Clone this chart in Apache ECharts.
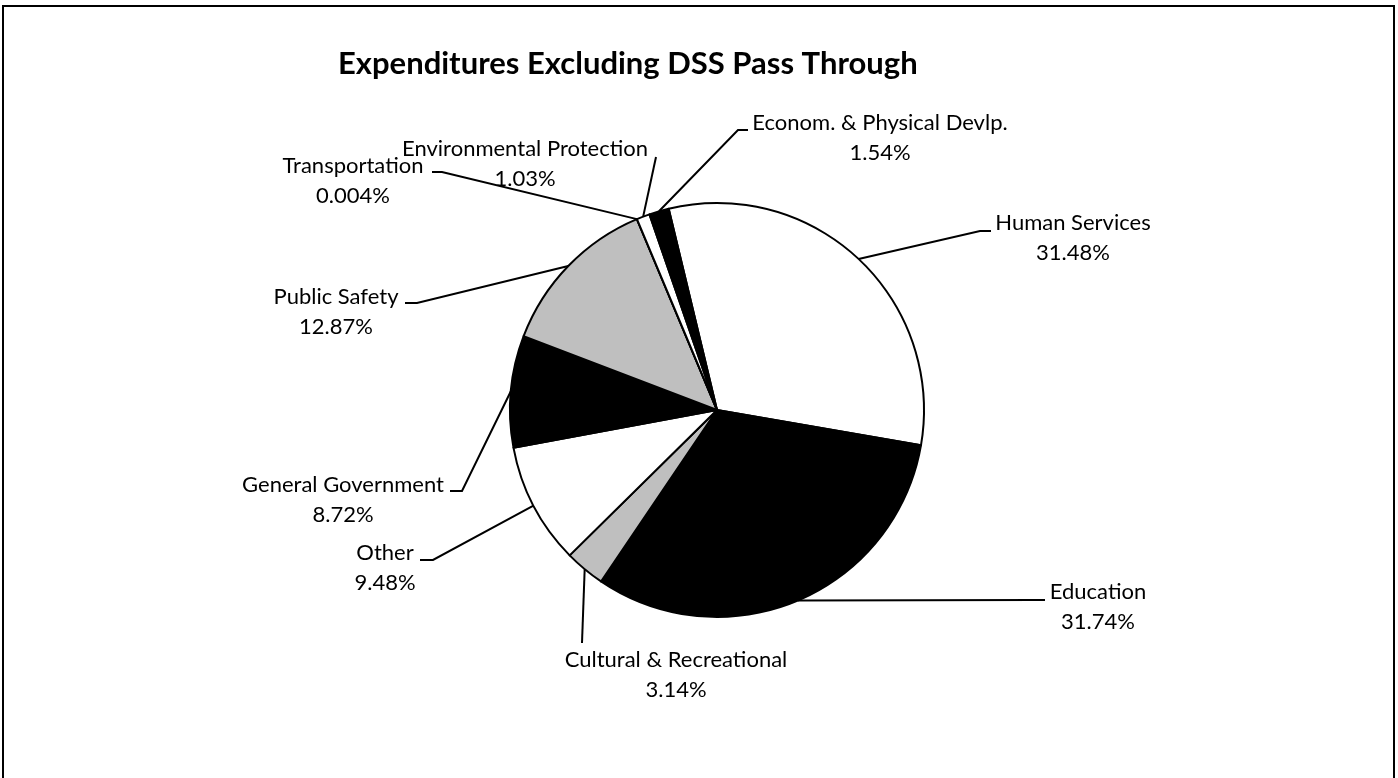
<!DOCTYPE html>
<html>
<head>
<meta charset="utf-8">
<script src="https://cdn.jsdelivr.net/npm/echarts@6/dist/echarts.min.js"></script>
<style>
  html, body { margin: 0; padding: 0; background: #fff; }
  #chart { width: 1398px; height: 778px; }
</style>
</head>
<body>
<div id="chart"></div>
<script>
// data, clockwise from the top
var categories = ['Human Services', 'Education', 'Cultural & Recreational', 'Other',
  'General Government', 'Public Safety', 'Transportation', 'Environmental Protection',
  'Econom. & Physical Devlp.']
var shares = [31.48, 31.74, 3.14, 9.48, 8.72, 12.87, 0.004, 1.03, 1.54]
var fills = ['#ffffff', '#000000', '#bfbfbf', '#ffffff', '#000000', '#bfbfbf', '#ffffff', '#ffffff', '#000000']

// pie geometry
var center = [717, 410]
var radius = 207
var startAngle = 103.5

// label placement: label centre, elbow of the leader line, end of the leader line
var labelPos = [[1073, 238], [1098, 607], [676, 675], [385, 568], [343, 500], [336, 312], [353, 181], [525, 164], [880, 138]]
var elbows = [[980, 231], [1035, 600], [582, 643], [433, 560], [462, 491], [417, 303], [442, 172], [656, 157], [738, 130]]
var ends = [[991, 231], [1045, 600], [582, 643], [420, 560], [450, 491], [405, 303], [432, 172], [656, 157], [748, 130]]

var total = shares.reduce(function (a, b) { return a + b }, 0)

// point on the rim at the middle of slice i
function anchorOf(i) {
  var before = 0
  for (var k = 0; k < i; k++) before += shares[k]
  var a = (startAngle - (before + shares[i] / 2) / total * 360) * Math.PI / 180
  return [center[0] + radius * Math.cos(a), center[1] - radius * Math.sin(a)]
}

var chart = echarts.init(document.getElementById('chart'))

var option = {
  backgroundColor: '#fff',
  animation: false,
  title: {
    text: 'Expenditures Excluding DSS Pass Through',
    left: 333,
    top: 43,
    textStyle: {
      fontFamily: 'Lato',
      fontWeight: 'bold',
      fontSize: 31,
      color: '#000'
    }
  },
  graphic: [{
    type: 'rect',
    shape: { x: 3, y: 6, width: 1391, height: 800 },
    style: { fill: 'none', stroke: '#000', lineWidth: 2 },
    silent: true
  }],
  series: [{
    type: 'pie',
    center: center,
    radius: radius,
    startAngle: startAngle,
    clockwise: true,
    avoidLabelOverlap: false,
    minShowLabelAngle: 0,
    itemStyle: { borderColor: '#000', borderWidth: 2 },
    emphasis: { disabled: true },
    label: {
      show: true,
      position: 'outside',
      formatter: '{b}\n{c}%',
      fontFamily: 'Lato',
      fontSize: 22,
      lineHeight: 30,
      color: '#000'
    },
    labelLine: {
      show: true,
      length: 20,
      length2: 20,
      smooth: false,
      lineStyle: { color: '#000', width: 2 }
    },
    labelLayout: function (params) {
      var i = params.dataIndex
      return {
        x: labelPos[i][0],
        y: labelPos[i][1],
        align: 'center',
        verticalAlign: 'middle',
        labelLinePoints: [anchorOf(i), elbows[i], ends[i]]
      }
    },
    data: categories.map(function (name, i) {
      return { name: name, value: shares[i], itemStyle: { color: fills[i] } }
    })
  }]
}

chart.setOption(option)
</script>
</body>
</html>
